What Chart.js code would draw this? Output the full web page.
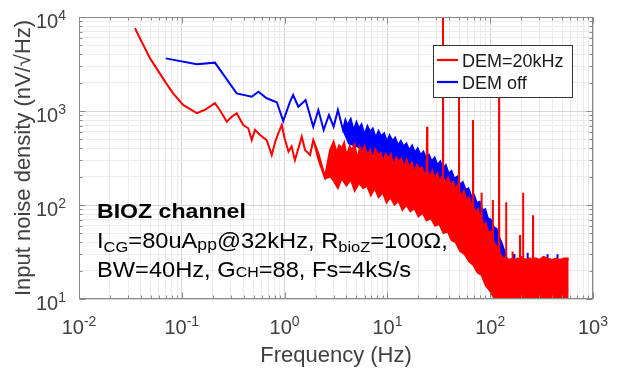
<!DOCTYPE html>
<html>
<head>
<meta charset="utf-8">
<title>BIOZ channel input noise</title>
<script src="https://cdn.jsdelivr.net/npm/chart.js@4.4.0/dist/chart.umd.min.js"></script>
<style>
  body { margin: 0; background: #fff; }
  canvas { display: block; background: #fff; }
</style>
</head>
<body>
<canvas id="noise" width="620" height="370"></canvas>
<script>
// DEM=20kHz : single trace at low f, then top edge of the noise band (with spurs)
var redTopF = [0.035,0.049,0.070,0.082,0.103,0.14,0.168,0.21,0.235,0.274,0.306,0.342,0.396,0.443,0.479,0.515,0.577,0.67,0.75,0.81,0.87,0.94,1.0,1.09,1.17,1.26,1.47,1.58,1.77,1.9,2.13,2.47,2.77,
  3.0,3.2,3.4,3.6,3.8,4.0,4.3,4.5,4.8,5.1,5.4,5.7,6.0,6.4,6.8,7.2,7.6,8.1,8.6,9.1,9.6,10.2,10.8,11.5,12.2,12.9,13.7,14.5,15.4,16.3,17.3,18.3,19.4,20.5,21.7,23.0,
  24.1,24.3,24.5,25.8,27.3,28.9,30.6,32.4,34.5,34.7,34.9,36.8,38.9,41.2,43.6,46.1,48.0,49.5,49.7,49.9,52.5,55.5,58.7,62.0,65.5,67.8,68.0,68.3,72,76,80,82.2,82.4,82.7,87,91,96,101,105.7,106,106.4,111,116,121.7,122,122.4,126,130,
  138,142.7,143,143.4,152,164.7,165,165.4,175,185,194.6,195,195.4,200,208.5,209,209.5,225,240,260.4,261,261.6,280,300,330,360,400,440,480,520,560,580];
var redTopV = [7600,3650,1990,1550,1160,950,1030,1210,1020,770,870,946,710,655,490,630,556,490,340,470,580,710,513,370,420,300,533,385,340,491,355,200,385,
  470,360,430,400,460,330,420,380,440,300,410,350,420,330,380,300,390,340,360,280,350,310,345,260,320,290,310,240,300,250,280,220,265,240,250,205,
  230,680,225,195,230,190,215,175,205,20000,195,170,195,160,175,140,160,150,3000,140,120,140,110,120,100,105,800,95,82,90,70,78,135,70,60,64,50,52,44,113,42,38,36,32,3000,30,30,28,
  27,27,107,27,26,27,32,27,26,27,26,48,27,28,27,135,27,26,27,26,78,27,27,26,28,27,26,27,26,27,27,27];

// DEM=20kHz : bottom edge of the noise band
var redBotF = [1.9,2.13,2.47,2.77,3.0,3.3,3.6,4.0,4.4,4.8,5.3,5.8,6.3,6.9,7.5,8.2,9.0,9.8,10.7,11.7,12.8,14,15.3,16.7,18.3,20,22,24,26.5,29,32,35,38.5,42,46,51,56,62,68,75,82,90,100,110,120,140,580];
var redBotV = [491,300,190,200,180,150,190,160,185,140,170,150,160,125,150,120,135,105,120,100,110,88,100,85,92,75,82,68,72,60,62,50,52,42,40,32,30,25,23,19,18,14,12,10,8,6,6];

// DEM off : single trace at low f, then top edge of the band
var blueTopF = [0.0697,0.14,0.21,0.342,0.479,0.556,0.67,0.84,0.97,1.13,1.21,1.36,1.6,1.9,2.13,2.4,2.7,3.0,3.3,3.7,
  3.9,4.1,4.4,4.7,5.0,5.3,5.6,6.0,6.4,6.8,7.2,7.7,8.2,8.7,9.3,9.9,10.5,11.2,11.9,12.7,13.5,14.4,15.3,16.3,17.4,18.5,19.7,21.0,22.4,23.8,25.4,27.0,28.8,30.7,32.7,34.8,37.0,39.5,42.0,44.8,47.7,50.8,54.1,57.6,61.3,65.3,69.5,74,79,84,89.5,95,101,108,115,124,132,140,145,
  150,170,171,172,230,231,232,300,360,361,362,450,451,452,575];
var blueTopV = [3630,3140,3270,1540,1420,1600,1365,1240,783,1260,1480,1110,1310,680,1023,629,906,680,1023,629,
  800,700,820,620,760,650,720,560,690,600,650,520,610,540,580,470,550,480,520,430,480,420,450,380,430,360,400,340,370,310,340,290,320,265,290,240,265,215,230,190,200,165,175,145,150,125,128,105,108,88,90,72,70,58,56,44,37,30,27,
  26,26,30,26,26,31,26,26,26,30,26,26,30,26,26];

// DEM off : bottom edge of the band (mostly hidden behind red)
var blueBotF = [3.7,4.2,5,6,7,8.5,10,12,15,18,21,25,30,36,43,52,62,75,90,110,130,145,575];
var blueBotV = [629,450,420,380,350,320,290,260,230,210,190,170,150,130,110,90,70,50,35,20,12,6,6];

var seriesNames = ['DEM=20kHz', 'DEM off'];
var xTickVals = [0.01, 0.1, 1, 10, 100, 1000];
var xTickExp = ['-2', '-1', '0', '1', '2', '3'];
var yTickVals = [10, 100, 1000, 10000];
var yTickExp = ['1', '2', '3', '4'];

var FONT = "'Liberation Sans', Arial, sans-serif";

function pts(fs, vs) {
  var out = [];
  for (var i = 0; i < fs.length; i++) out.push({x: fs[i], y: vs[i]});
  return out;
}

// 1, 10, 100... -> major, 2..9 x decade -> minor, anything else (1.5 etc) -> none
function gridKind(v) {
  var e = Math.floor(Math.log10(v) + 1e-9);
  var m = v / Math.pow(10, e);
  if (Math.abs(m - 1) < 1e-6) return 'major';
  if (Math.abs(m - Math.round(m)) < 1e-6) return 'minor';
  return 'none';
}
function gridColor(ctx) {
  var k = gridKind(ctx.tick.value);
  if (k == 'major') return '#d6d6d6';
  if (k == 'minor') return '#ececec';
  return 'rgba(0,0,0,0)';
}

function powLabel(ctx, exp, x, y, align) {
  ctx.font = '20px ' + FONT;
  var w1 = ctx.measureText('10').width;
  ctx.font = '14px ' + FONT;
  var w2 = ctx.measureText(exp).width;
  var x0 = align == 'right' ? x - w1 - w2 : x - (w1 + w2) / 2;
  ctx.textAlign = 'left';
  ctx.textBaseline = 'alphabetic';
  ctx.font = '20px ' + FONT;
  ctx.fillText('10', x0, y);
  ctx.font = '14px ' + FONT;
  ctx.fillText(exp, x0 + w1, y - 8);
}

// text pieces: [text, size, dy, bold]
var noteLines = [
  {y: 218, parts: [['BIOZ channel', 21, 0, true]]},
  {y: 248, parts: [['I', 21.5, 0], ['CG', 15, 4], ['=80uA', 21.5, 0], ['pp', 16, 2], ['@32kHz, R', 21.5, 0], ['bioZ', 15, 4], ['=100\u03A9,', 21.5, 0]]},
  {y: 277, parts: [['BW=40Hz, G', 21.5, 0], ['CH', 14.5, 0], ['=88, Fs=4kS/s', 21.5, 0]]}
];

var decorPlugin = {
  id: 'decor',
  afterDraw: function(chart) {
    var ctx = chart.ctx, a = chart.chartArea;
    var xs = chart.scales.x, ys = chart.scales.y;
    var L = Math.round(a.left) + 0.5, R = Math.round(a.right) - 0.5;
    var T = Math.round(a.top) + 0.5, B = Math.round(a.bottom) - 0.5;
    ctx.save();

    // axes box + inward ticks
    ctx.strokeStyle = '#8a8a8a';
    ctx.lineWidth = 1;
    ctx.strokeRect(L, T, R - L, B - T);
    ctx.beginPath();
    xs.ticks.forEach(function(t) {
      var k = gridKind(t.value);
      if (k == 'none') return;
      var len = k == 'major' ? 6 : 3;
      var px = Math.round(xs.getPixelForValue(t.value)) + 0.5;
      ctx.moveTo(px, B); ctx.lineTo(px, B - len);
      ctx.moveTo(px, T); ctx.lineTo(px, T + len);
    });
    ys.ticks.forEach(function(t) {
      var k = gridKind(t.value);
      if (k == 'none') return;
      var len = k == 'major' ? 6 : 3;
      var py = Math.round(ys.getPixelForValue(t.value)) + 0.5;
      ctx.moveTo(L, py); ctx.lineTo(L + len, py);
      ctx.moveTo(R, py); ctx.lineTo(R - len, py);
    });
    ctx.stroke();

    // tick labels 10^n
    ctx.fillStyle = '#404040';
    xTickVals.forEach(function(v, i) {
      powLabel(ctx, xTickExp[i], xs.getPixelForValue(v), 334, 'center');
    });
    yTickVals.forEach(function(v, i) {
      powLabel(ctx, yTickExp[i], 66, ys.getPixelForValue(v) + 11, 'right');
    });

    // annotation text
    ctx.fillStyle = '#000';
    noteLines.forEach(function(line) {
      ctx.save();
      ctx.translate(97, line.y);
      ctx.scale(1.1, 1);
      var x = 0;
      line.parts.forEach(function(p) {
        ctx.font = (p[3] ? 'bold ' : '') + p[1] + 'px ' + FONT;
        ctx.fillText(p[0], x, p[2]);
        x += ctx.measureText(p[0]).width;
      });
      ctx.restore();
    });

    // legend box
    ctx.fillStyle = '#fff';
    ctx.fillRect(433.5, 45.5, 139, 52);
    ctx.strokeStyle = '#333';
    ctx.strokeRect(433.5, 45.5, 139, 52);
    var rows = [[chart.data.datasets[0], 60, 67], [chart.data.datasets[2], 82, 89]];
    rows.forEach(function(r) {
      ctx.strokeStyle = r[0].borderColor;
      ctx.lineWidth = 2.2;
      ctx.beginPath();
      ctx.moveTo(437, r[1]); ctx.lineTo(458, r[1]);
      ctx.stroke();
      ctx.fillStyle = '#1a1a1a';
      ctx.font = '18px ' + FONT;
      ctx.fillText(r[0].label, 462, r[2]);
    });
    ctx.restore();
  }
};

var ctx1 = document.getElementById('noise');

var chart1 = new Chart(ctx1, {
  type: 'line',
  data: {
    datasets: [
      {
        label: seriesNames[0],
        data: pts(redTopF, redTopV),
        borderColor: '#ff0000',
        backgroundColor: '#ff0000',
        borderWidth: 2,
        pointRadius: 0,
        tension: 0,
        fill: '+1'
      },
      {
        label: 'red band floor',
        data: pts(redBotF, redBotV),
        borderColor: '#ff0000',
        borderWidth: 1.5,
        pointRadius: 0,
        tension: 0,
        fill: false
      },
      {
        label: seriesNames[1],
        data: pts(blueTopF, blueTopV),
        borderColor: '#0000ff',
        backgroundColor: '#0000ff',
        borderWidth: 2,
        pointRadius: 0,
        tension: 0,
        fill: '+1'
      },
      {
        label: 'blue band floor',
        data: pts(blueBotF, blueBotV),
        borderColor: '#0000ff',
        borderWidth: 1.5,
        pointRadius: 0,
        tension: 0,
        fill: false
      }
    ]
  },
  options: {
    responsive: false,
    animation: false,
    devicePixelRatio: 1,
    layout: { padding: { left: 0, top: 17, right: 27, bottom: 0 } },
    plugins: {
      legend: { display: false },
      tooltip: { enabled: false }
    },
    scales: {
      x: {
        type: 'logarithmic',
        min: 0.01,
        max: 1000,
        grid: { color: gridColor, drawTicks: false },
        border: { display: false },
        ticks: { display: false },
        title: {
          display: true,
          text: 'Frequency (Hz)',
          color: '#404040',
          font: { family: FONT, size: 22 },
          padding: { top: 0, bottom: 1 }
        },
        afterFit: function(scale) { scale.height = 71; }
      },
      y: {
        type: 'logarithmic',
        min: 10,
        max: 10000,
        grid: { color: gridColor, drawTicks: false },
        border: { display: false },
        ticks: { display: false },
        title: {
          display: true,
          text: 'Input noise density (nV/\u221AHz)',
          color: '#404040',
          font: { family: FONT, size: 22 },
          padding: { top: 11, bottom: 0 }
        },
        afterFit: function(scale) { scale.width = 79; }
      }
    }
  },
  plugins: [decorPlugin]
});
</script>
</body>
</html>
